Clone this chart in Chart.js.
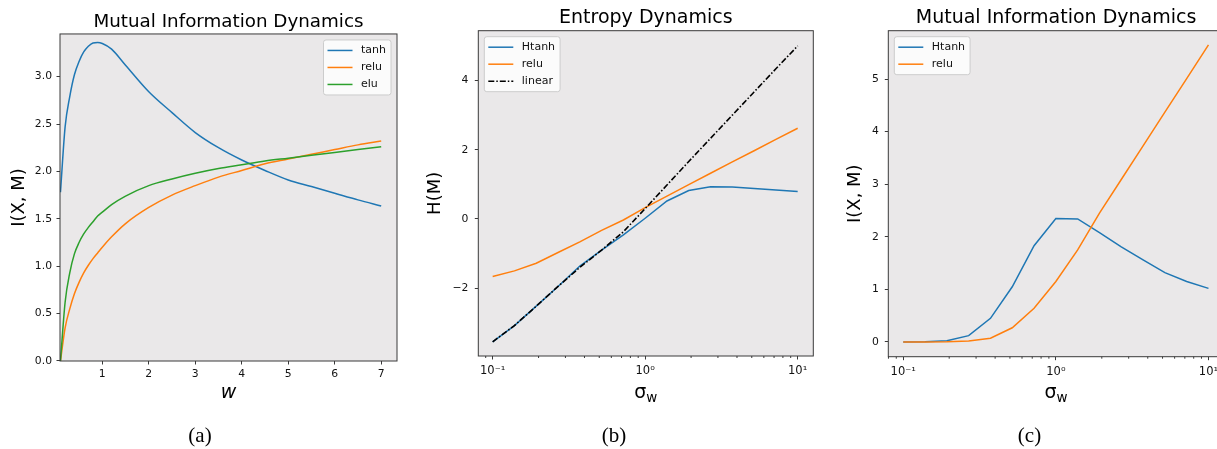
<!DOCTYPE html>
<html>
<head>
<meta charset="utf-8">
<script src="https://cdn.jsdelivr.net/npm/chart.js@4.4.1/dist/chart.umd.min.js"></script>
<style>
  html, body { margin: 0; padding: 0; background: #fff; overflow: hidden; width: 1217px; height: 449px; }
  canvas { position: absolute; top: 0; }
  .xlab { position: absolute; width: 120px; text-align: center; font-family: "DejaVu Sans"; font-size: 19px; line-height: 19px; color: #000; }
  .xlab sub { font-size: 13.5px; vertical-align: -4px; line-height: 0; }
  .cap { position: absolute; width: 60px; text-align: center; font-family: "Liberation Serif"; font-size: 21px; line-height: 21px; color: #000; }
</style>
</head>
<body>
<canvas id="chartA" width="410" height="449" style="left:0px"></canvas>
<canvas id="chartB" width="410" height="449" style="left:410px"></canvas>
<canvas id="chartC" width="400" height="449" style="left:830px"></canvas>

<div class="xlab" style="left:168.5px; top:381.5px; font-style:italic">w</div>
<div class="xlab" style="left:585.8px; top:382px">σ<sub>w</sub></div>
<div class="xlab" style="left:996px; top:382px">σ<sub>w</sub></div>

<div class="cap" style="left:170px; top:425px">(a)</div>
<div class="cap" style="left:584px; top:425px">(b)</div>
<div class="cap" style="left:999.5px; top:425px">(c)</div>

<script>
// (a) mutual information vs weight scale w
const wVals  = [0.1, 0.2, 0.3, 0.4, 0.5, 0.6, 0.7, 0.8, 0.9, 1.0, 1.2, 1.5, 2, 2.5, 3, 3.5, 4, 4.5, 5, 5.5, 6, 6.5, 7];
const tanhMI = [1.78, 2.47, 2.79, 3.02, 3.16, 3.26, 3.32, 3.355, 3.36, 3.35, 3.29, 3.12, 2.84, 2.62, 2.41, 2.25, 2.12, 2.01, 1.91, 1.84, 1.77, 1.70, 1.635];
const reluMI = [0.0, 0.35, 0.55, 0.71, 0.83, 0.93, 1.01, 1.08, 1.14, 1.20, 1.31, 1.45, 1.62, 1.75, 1.85, 1.94, 2.01, 2.08, 2.13, 2.18, 2.23, 2.28, 2.32];
const eluMI  = [0.0, 0.62, 0.93, 1.13, 1.25, 1.34, 1.41, 1.47, 1.53, 1.57, 1.65, 1.74, 1.85, 1.92, 1.98, 2.03, 2.07, 2.11, 2.14, 2.17, 2.20, 2.23, 2.26];

// (b) and (c) share the sigma_w grid
const sigmaW = [0.1, 0.1389, 0.1931, 0.2683, 0.3728, 0.5179, 0.7197, 1.0, 1.3895, 1.9307, 2.6827, 3.7276, 5.1795, 7.1969, 10];
const htanhH = [-3.55, -3.08, -2.52, -1.95, -1.36, -0.90, -0.46, 0.02, 0.52, 0.82, 0.93, 0.92, 0.88, 0.84, 0.79];
const reluH  = [-1.66, -1.50, -1.28, -0.97, -0.66, -0.33, -0.03, 0.33, 0.66, 0.99, 1.32, 1.65, 1.97, 2.30, 2.62];
const linearH = [-3.55, -3.08, -2.52, -1.95, -1.40, -0.90, -0.37, 0.30, 0.98, 1.66, 2.33, 3.00, 3.67, 4.34, 5.00];
const htanhI = [0.0, 0.005, 0.025, 0.12, 0.45, 1.05, 1.83, 2.35, 2.34, 2.08, 1.81, 1.56, 1.32, 1.15, 1.02];
const reluI  = [0.0, 0.0, 0.005, 0.02, 0.07, 0.27, 0.64, 1.15, 1.75, 2.45, 3.09, 3.73, 4.37, 5.01, 5.65];

// tick labels
const ticksWA = [1, 2, 3, 4, 5, 6, 7];
const ticksYA = [0, 0.5, 1.0, 1.5, 2.0, 2.5, 3.0];
const ticksYB = [-2, 0, 2, 4];
const ticksYC = [0, 1, 2, 3, 4, 5];
const ticksLog = [0.1, 1, 10];
const logLabels = { 0.1: '10\u207B\u00B9', 1: '10\u2070', 10: '10\u00B9' };

const BLUE = '#1f77b4', ORANGE = '#ff7f0e', GREEN = '#2ca02c';
const FONT = '"DejaVu Sans"';

function pts(xs, ys) {
  return xs.map((x, i) => ({ x: x, y: ys[i] }));
}

// background, frame, minor log ticks and matplotlib-like legend box
const mplLook = {
  id: 'mplLook',
  beforeDraw(chart) {
    const a = chart.chartArea, ctx = chart.ctx;
    ctx.save();
    ctx.fillStyle = '#eae8e9';
    ctx.fillRect(a.left, a.top, a.right - a.left, a.bottom - a.top);
    ctx.restore();
  },
  afterDraw(chart, args, opts) {
    const a = chart.chartArea, ctx = chart.ctx;
    ctx.save();
    ctx.strokeStyle = '#3a3a3a';
    ctx.lineWidth = 1;
    ctx.strokeRect(a.left, a.top, a.right - a.left, a.bottom - a.top);

    const sx = chart.scales.x;
    if (sx.type === 'logarithmic') {
      ctx.beginPath();
      for (let e = -2; e <= 1; e++) {
        for (let k = 2; k <= 9; k++) {
          const v = k * Math.pow(10, e);
          if (v < sx.min || v > sx.max) continue;
          const px = sx.getPixelForValue(v);
          ctx.moveTo(px, a.bottom);
          ctx.lineTo(px, a.bottom + 2);
        }
      }
      ctx.stroke();
    }

    // legend
    const sets = chart.data.datasets;
    ctx.font = '11px ' + FONT;
    const tw = Math.max(...sets.map(d => ctx.measureText(d.label).width));
    const w = 4 + 25 + 8.5 + tw + 5, h = sets.length * 17 + 4;
    const x = opts.side === 'right' ? a.right - 6 - w : a.left + 6;
    const y = a.top + 6;
    ctx.beginPath();
    ctx.roundRect(x, y, w, h, 2.5);
    ctx.fillStyle = 'rgba(255,255,255,0.8)';
    ctx.fill();
    ctx.strokeStyle = '#cccccc';
    ctx.stroke();
    sets.forEach((d, i) => {
      const cy = y + 2 + (i + 0.5) * 17;
      ctx.beginPath();
      ctx.strokeStyle = d.borderColor;
      ctx.lineWidth = d.borderWidth;
      ctx.setLineDash(d.borderDash || []);
      ctx.moveTo(x + 4, cy);
      ctx.lineTo(x + 29, cy);
      ctx.stroke();
      ctx.setLineDash([]);
      ctx.fillStyle = '#111';
      ctx.textBaseline = 'middle';
      ctx.textAlign = 'left';
      ctx.fillText(d.label, x + 37.5, cy);
    });
    ctx.restore();
  }
};

function makeChart(id, c) {
  // matplotlib draws later series on top; in Chart.js a lower order is drawn on top
  c.datasets.forEach((d, i) => { d.order = c.datasets.length - i; });
  return new Chart(document.getElementById(id), {
    type: 'line',
    data: { datasets: c.datasets },
    plugins: [mplLook],
    options: {
      responsive: false,
      animation: false,
      events: [],
      layout: { padding: c.padding },
      elements: { point: { radius: 0 } },
      plugins: {
        legend: { display: false },
        tooltip: { enabled: false },
        mplLook: { side: c.legendSide },
        title: {
          display: true,
          text: c.title,
          fullSize: false,
          color: '#000',
          font: { family: FONT, size: c.titleSize, weight: 'normal', lineHeight: 1.2 },
          padding: c.titlePad
        }
      },
      scales: {
        x: {
          type: c.xType,
          min: c.xMin,
          max: c.xMax,
          afterFit(s) { s.height = 40; },
          afterBuildTicks(s) { s.ticks = c.xTicks.map(v => ({ value: v })); },
          grid: { drawOnChartArea: false, drawTicks: true, tickLength: 3.5, color: '#3a3a3a' },
          border: { display: false },
          ticks: {
            autoSkip: false, maxRotation: 0, padding: c.xTickPad,
            color: '#111', font: { family: FONT, size: c.xTickSize },
            callback: c.xFmt
          }
        },
        y: {
          type: 'linear',
          min: c.yMin,
          max: c.yMax,
          afterFit(s) { s.width = c.yWidth; },
          afterBuildTicks(s) { s.ticks = c.yTicks.map(v => ({ value: v })); },
          grid: { drawOnChartArea: false, drawTicks: true, tickLength: 3.5, color: '#3a3a3a' },
          border: { display: false },
          ticks: {
            autoSkip: false, padding: c.yTickPad,
            color: '#111', font: { family: FONT, size: 10.8 },
            callback: c.yFmt
          },
          title: {
            display: true,
            text: c.yTitle,
            color: '#000',
            font: { family: FONT, size: 18, lineHeight: 1.2 },
            padding: { top: c.yTitlePad, bottom: 0 }
          }
        }
      }
    }
  });
}

const minusFmt = v => (v < 0 ? '\u2212' + Math.abs(v) : String(v));
const logFmt = v => logLabels[v] || '';

makeChart('chartA', {
  title: 'Mutual Information Dynamics', titleSize: 18.3, titlePad: { top: 11.5, bottom: 0.5 },
  padding: { left: 0, right: 13, top: 0, bottom: 48 },
  yWidth: 60, yTitle: 'I(X, M)', yTitlePad: 8.2, yTickPad: 4.5,
  xType: 'linear', xMin: 0.09, xMax: 7.34, xTicks: ticksWA, xTickPad: 3, xTickSize: 10.8, xFmt: v => String(v),
  yMin: 0, yMax: 3.45, yTicks: ticksYA, yFmt: v => v.toFixed(1),
  legendSide: 'right',
  datasets: [
    { label: 'tanh', data: pts(wVals, tanhMI), borderColor: BLUE, borderWidth: 1.5, cubicInterpolationMode: 'monotone' },
    { label: 'relu', data: pts(wVals, reluMI), borderColor: ORANGE, borderWidth: 1.5, cubicInterpolationMode: 'monotone' },
    { label: 'elu', data: pts(wVals, eluMI), borderColor: GREEN, borderWidth: 1.5, cubicInterpolationMode: 'monotone' }
  ]
});

makeChart('chartB', {
  title: 'Entropy Dynamics', titleSize: 19, titlePad: { top: 6.6, bottom: 1.3 },
  padding: { left: 0, right: 6.7, top: 0, bottom: 53 },
  yWidth: 68.3, yTitle: 'H(M)', yTitlePad: 14.7, yTickPad: 6.5,
  xType: 'logarithmic', xMin: 0.0805, xMax: 12.66, xTicks: ticksLog, xTickPad: 5, xTickSize: 11.5, xFmt: logFmt,
  yMin: -3.96, yMax: 5.44, yTicks: ticksYB, yFmt: minusFmt,
  legendSide: 'left',
  datasets: [
    { label: 'Htanh', data: pts(sigmaW, htanhH), borderColor: BLUE, borderWidth: 1.5, tension: 0 },
    { label: 'relu', data: pts(sigmaW, reluH), borderColor: ORANGE, borderWidth: 1.5, tension: 0 },
    { label: 'linear', data: pts(sigmaW, linearH), borderColor: '#000', borderWidth: 1.6, borderDash: [6, 2, 1.5, 2], tension: 0 }
  ]
});

makeChart('chartC', {
  title: 'Mutual Information Dynamics', titleSize: 19, titlePad: { top: 6.6, bottom: 1.3 },
  padding: { left: 0, right: 6.2, top: 0, bottom: 52.3 },
  yWidth: 58.3, yTitle: 'I(X, M)', yTitlePad: 14.7, yTickPad: 6,
  xType: 'logarithmic', xMin: 0.0798, xMax: 12.6, xTicks: ticksLog, xTickPad: 5, xTickSize: 11.5, xFmt: logFmt,
  yMin: -0.28, yMax: 5.92, yTicks: ticksYC, yFmt: v => String(v),
  legendSide: 'left',
  datasets: [
    { label: 'Htanh', data: pts(sigmaW, htanhI), borderColor: BLUE, borderWidth: 1.5, tension: 0 },
    { label: 'relu', data: pts(sigmaW, reluI), borderColor: ORANGE, borderWidth: 1.5, tension: 0 }
  ]
});
</script>
</body>
</html>
